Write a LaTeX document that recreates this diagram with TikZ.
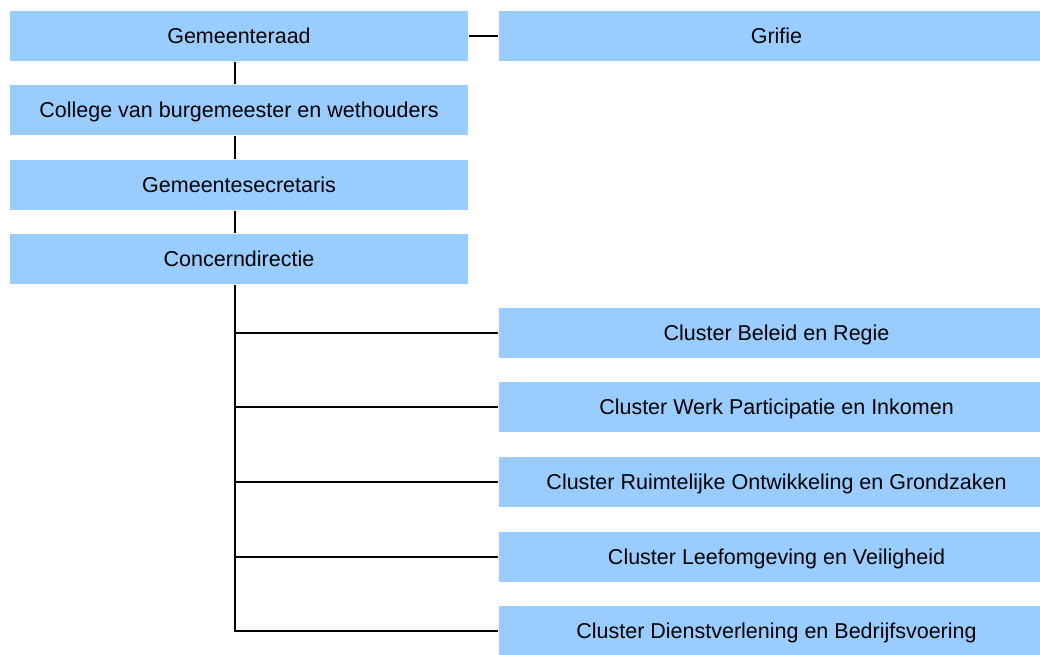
\documentclass[tikz,border=0pt]{standalone}
\usepackage{fontspec}
\setmainfont{Liberation Sans}
\definecolor{boxblue}{HTML}{99CCFF}
\begin{document}
\begin{tikzpicture}[x=1pt,y=-1pt,line width=2.2pt,
    box/.style={fill=boxblue,inner sep=0pt,minimum height=50pt,
      text height=15.5pt,text depth=0pt,
      font=\fontsize{21.5}{25}\selectfont},
    leftbox/.style={box,minimum width=458pt},
    rightbox/.style={box,minimum width=555pt}]
   \useasboundingbox (0,0) rectangle (1040,655);
   \coordinate (trunk) at (235,0);
   % left column
   \node[leftbox] (raad) at (239,36) {Gemeenteraad};
   \node[leftbox] (college) at (239,110) {College van burgemeester en wethouders};
   \node[leftbox] (secretaris) at (239,185) {Gemeentesecretaris};
   \node[leftbox] (concern) at (239,259) {Concerndirectie};
   % right column
   \node[rightbox] (grifie) at (776.5,36) {Grifie};
   \node[rightbox] (beleid) at (776.5,333) {Cluster Beleid en Regie};
   \node[rightbox] (werk) at (776.5,407) {Cluster Werk Participatie en Inkomen};
   \node[rightbox] (ruimte) at (776.5,482) {Cluster Ruimtelijke Ontwikkeling en Grondzaken};
   \node[rightbox] (leef) at (776.5,557) {Cluster Leefomgeving en Veiligheid};
   \node[rightbox] (dienst) at (776.5,631) {Cluster Dienstverlening en Bedrijfsvoering};
   % connectors
   \draw (raad) -- (grifie);
   \draw (raad.south -| trunk) -- (college.north -| trunk);
   \draw (college.south -| trunk) -- (secretaris.north -| trunk);
   \draw (secretaris.south -| trunk) -- (concern.north -| trunk);
   \draw (concern.south -| trunk) |- (dienst.west);
   \foreach \c in {beleid,werk,ruimte,leef}
      \draw (\c.west -| trunk) -- (\c.west);
\end{tikzpicture}
\end{document}
